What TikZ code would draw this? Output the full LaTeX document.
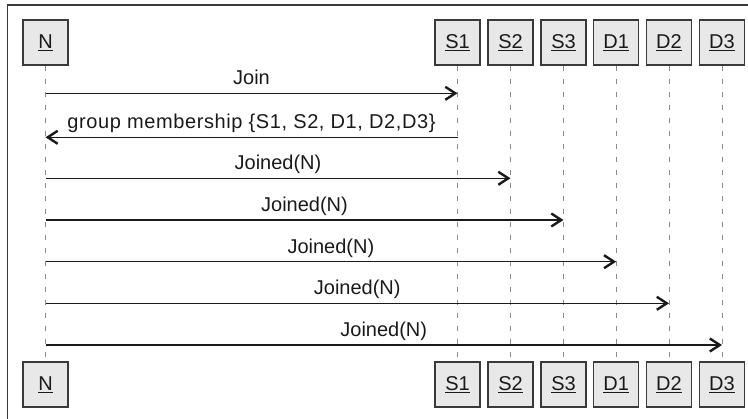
\documentclass[tikz,border=0pt]{standalone}
\usepackage{fontspec}
\setmainfont{Liberation Sans}
\usetikzlibrary{arrows.meta,calc}
\definecolor{boxfill}{HTML}{E8E8E8}
\definecolor{boxline}{HTML}{3A3A3A}
\definecolor{lifeline}{HTML}{8A8A8A}
\definecolor{txt}{HTML}{1A1A1A}
\tikzset{
  actor/.style={draw=boxline, line width=1.5pt, fill=boxfill, minimum width=45pt, minimum height=45pt, inner sep=0pt, text=txt, font=\fontsize{20}{24}\selectfont},
  life/.style={draw=lifeline, line width=1pt, dash pattern=on 5pt off 8pt},
  msg/.style={draw=txt, line width=1.5pt, -{Straight Barb[length=10pt, width=13pt, line width=2.4pt]}},
  lbl/.style={anchor=base, inner sep=0pt, text=txt, font=\fontsize{20}{24}\selectfont},
}
\begin{document}
\begin{tikzpicture}[x=1pt,y=-1pt]
\useasboundingbox (0,0) rectangle (748,419);
\clip (0,0) rectangle (748,419);
\draw[boxline, line width=1.5pt] (7.3,4.8) rectangle (770,440);
% top actors
\node[actor] (nT)  at (45.5,42.5)  {\underline{N}};
\node[actor] (s1T) at (457.5,42.5) {\underline{S1}};
\node[actor] (s2T) at (510.5,42.5) {\underline{S2}};
\node[actor] (s3T) at (563.5,42.5) {\underline{S3}};
\node[actor] (d1T) at (616.2,42.5) {\underline{D1}};
\node[actor] (d2T) at (669,42.5)   {\underline{D2}};
\node[actor] (d3T) at (722,42.5)   {\underline{D3}};
% bottom actors
\node[actor] (nB)  at (45.5,384.7)  {\underline{N}};
\node[actor] (s1B) at (457.5,384.7) {\underline{S1}};
\node[actor] (s2B) at (510.5,384.7) {\underline{S2}};
\node[actor] (s3B) at (563.5,384.7) {\underline{S3}};
\node[actor] (d1B) at (616.2,384.7) {\underline{D1}};
\node[actor] (d2B) at (669,384.7)   {\underline{D2}};
\node[actor] (d3B) at (722,384.7)   {\underline{D3}};
% lifelines
\draw[life] (nT) -- (nB);
\draw[life] (s1T) -- (s1B);
\draw[life] (s2T) -- (s2B);
\draw[life] (s3T) -- (s3B);
\draw[life] (d1T) -- (d1B);
\draw[life] (d2T) -- (d2B);
\draw[life] (d3T) -- (d3B);
% messages
\draw[msg] (nT |- 0,93.3) -- node[lbl, yshift=8.3pt] {Join} (s1T |- 0,93.3);
\draw[msg] (s1T |- 0,137.3) -- node[lbl, yshift=9pt] {\addfontfeatures{LetterSpace=3}group membership \{S1, S2, D1, D2,D3\}} (nT |- 0,137.3);
\draw[msg] (nT |- 0,178.3) -- node[lbl, yshift=8.3pt] {Joined(N)} (s2T |- 0,178.3);
\draw[msg] (nT |- 0,220) -- node[lbl, yshift=8.3pt] {Joined(N)} (s3T |- 0,220);
\draw[msg] (nT |- 0,261.7) -- node[lbl, yshift=8.3pt] {Joined(N)} (d1T |- 0,261.7);
\draw[msg] (nT |- 0,303.3) -- node[lbl, yshift=8.3pt] {Joined(N)} (d2T |- 0,303.3);
\draw[msg] (nT |- 0,345) -- node[lbl, yshift=8.3pt] {Joined(N)} (d3T |- 0,345);
\end{tikzpicture}
\end{document}
